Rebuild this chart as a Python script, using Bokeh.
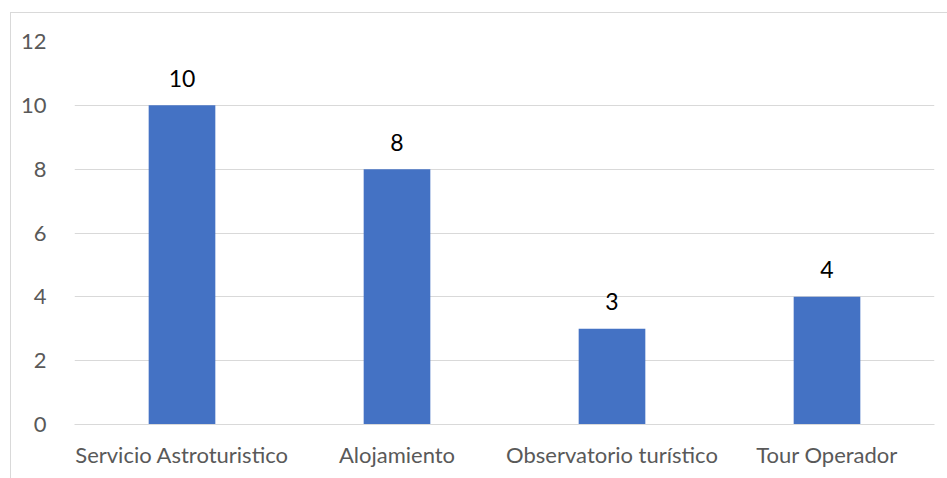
from bokeh.plotting import figure
from bokeh.models import FactorRange, Range1d, FixedTicker, ColumnDataSource
from bokeh.core.properties import value
from bokeh.embed import file_html
from bokeh.resources import INLINE

categories = ["Servicio Astroturistico", "Alojamiento", "Observatorio turístico", "Tour Operador"]
counts = [10, 8, 3, 4]
y_ticks = [0, 2, 4, 6, 8, 10, 12]

FONT = "Lato"
GRID = "#d9d9d9"

src = ColumnDataSource(dict(cat=categories, val=counts, lab=[str(v) for v in counts]))

p = figure(
    width=937, height=466,
    x_range=FactorRange(*categories, range_padding=0),
    y_range=Range1d(0, 12),
    output_backend="svg", toolbar_location=None,
    min_border_left=63, min_border_right=14, min_border_top=28, min_border_bottom=55,
)
p.margin = (12, 0, 0, 10)
p.styles = {"border-left": "1px solid #d9d9d9", "border-top": "1px solid #d9d9d9"}
p.outline_line_color = None
p.background_fill_color = "white"
p.border_fill_color = "white"

p.vbar(x="cat", top="val", width=0.31, source=src, fill_color="#4472C4", line_color=None)
p.text(x="cat", y="val", text="lab", source=src, text_align="center", text_baseline="alphabetic",
       y_offset=-27, text_font=value(FONT), text_font_size="23px", text_color="#000000")

p.xgrid.grid_line_color = None
p.ygrid.grid_line_color = GRID
p.ygrid.grid_line_width = 1
p.yaxis.ticker = FixedTicker(ticks=y_ticks)

p.yaxis.axis_line_color = None
p.yaxis.major_tick_line_color = None
p.yaxis.minor_tick_line_color = None
p.yaxis.major_label_standoff = 22
p.yaxis.major_label_text_font = FONT
p.yaxis.major_label_text_font_size = "22px"
p.yaxis.major_label_text_color = "#595959"

p.xaxis.axis_line_color = GRID
p.xaxis.major_tick_line_color = None
p.xaxis.minor_tick_line_color = None
p.xaxis.major_label_standoff = 10
p.xaxis.major_label_text_font = FONT
p.xaxis.major_label_text_font_size = "22px"
p.xaxis.major_label_text_color = "#595959"

open("out.html", "w").write(file_html(p, INLINE))
